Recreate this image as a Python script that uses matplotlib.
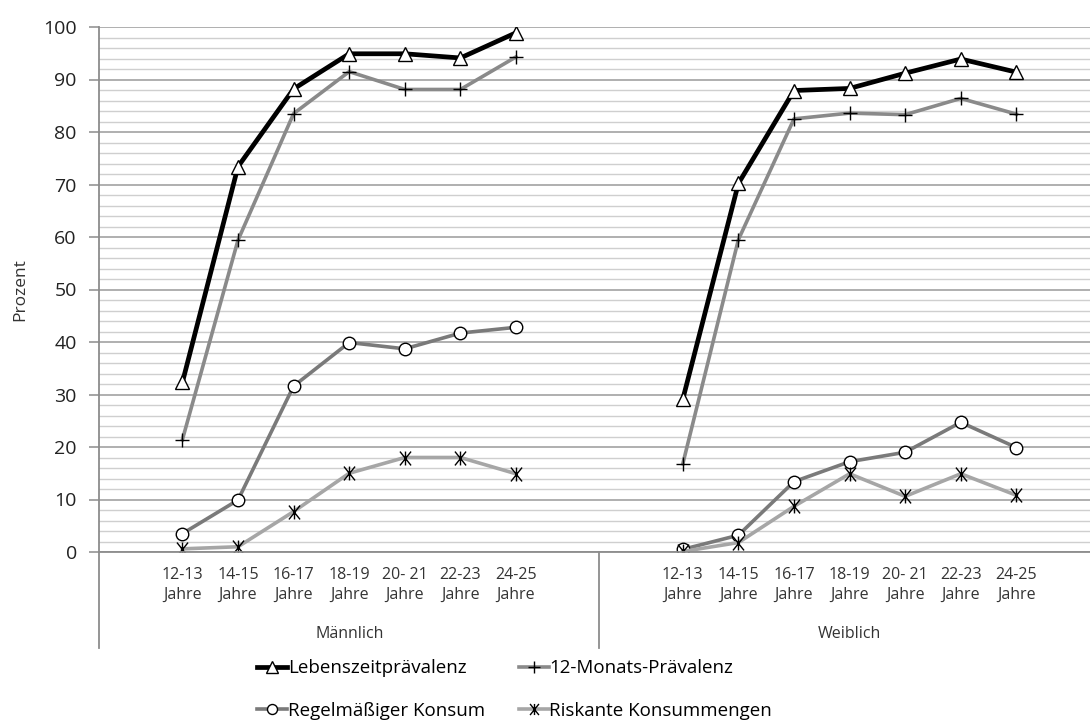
import matplotlib
matplotlib.use("Agg")
import matplotlib.pyplot as plt
import numpy as np
from matplotlib.path import Path
from matplotlib.ticker import MultipleLocator

plt.rcParams['font.family'] = ['Open Sans', 'DejaVu Sans']

# Altersgruppen je Geschlecht
alter = ["12-13\nJahre", "14-15\nJahre", "16-17\nJahre", "18-19\nJahre",
         "20- 21\nJahre", "22-23\nJahre", "24-25\nJahre"]
gruppen = ["Männlich", "Weiblich"]

# Werte in Prozent
leben_m = [32.3, 73.4, 88.2, 94.9, 94.9, 94.1, 98.9]
leben_w = [29.1, 70.2, 87.9, 88.3, 91.2, 93.9, 91.4]
monat_m = [21.4, 59.4, 83.5, 91.5, 88.1, 88.1, 94.3]
monat_w = [16.8, 59.5, 82.5, 83.6, 83.3, 86.4, 83.4]
regel_m = [3.5, 9.9, 31.6, 39.9, 38.7, 41.7, 42.8]
regel_w = [0.5, 3.2, 13.4, 17.2, 19.0, 24.7, 19.9]
risk_m = [0.6, 1.0, 7.7, 15.0, 18.0, 18.0, 14.9]
risk_w = [0.1, 1.8, 8.7, 14.9, 10.6, 14.9, 10.8]

# Stern-Marker (X mit senkrechtem Strich)
stern = Path([(-0.8, -1), (0.8, 1), (-0.8, 1), (0.8, -1), (0, -1), (0, 1)],
             [Path.MOVETO, Path.LINETO, Path.MOVETO, Path.LINETO,
              Path.MOVETO, Path.LINETO])

serien = [
    ("Lebenszeitprävalenz", leben_m, leben_w,
     dict(color="black", lw=3.4, marker="^", ms=10, mfc="white", mec="black", mew=1.0)),
    ("12-Monats-Prävalenz", monat_m, monat_w,
     dict(color="#8a8a8a", lw=2.6, marker="+", ms=10, mec="black", mew=1.0)),
    ("Regelmäßiger Konsum", regel_m, regel_w,
     dict(color="#7a7a7a", lw=2.6, marker="o", ms=9, mfc="white", mec="black", mew=1.0)),
    ("Riskante Konsummengen", risk_m, risk_w,
     dict(color="#a6a6a6", lw=2.6, marker=stern, ms=10, mec="black", mew=1.0)),
]

fig = plt.figure(figsize=(10.9, 7.22), dpi=100)
W, H = 1090, 722
ax = fig.add_axes([99 / W, 1 - 552 / H, (W - 99) / W, 525 / H])

n = len(alter)
slot = 9
x_m = np.arange(n) + 1.5
x_w = np.arange(n) + 1.5 + slot

handles = []
for name, werte_m, werte_w, st in serien:
    h, = ax.plot(x_m, werte_m, label=name, **st)
    ax.plot(x_w, werte_w, **st)
    handles.append(h)

ax.set_ylim(0, 100)
ax.set_xlim(0, (W - 99) / 55.6)
ax.yaxis.set_major_locator(MultipleLocator(10))
ax.yaxis.set_minor_locator(MultipleLocator(2))
ax.grid(which="minor", axis="y", color="#cfcfcf", lw=1.0)
ax.grid(which="major", axis="y", color="#9a9a9a", lw=1.1)
ax.set_axisbelow(True)

for s in ["top", "right"]:
    ax.spines[s].set_visible(False)
ax.spines["left"].set_color("#8c8c8c")
ax.spines["left"].set_linewidth(1.3)
ax.spines["bottom"].set_color("#8c8c8c")
ax.spines["bottom"].set_linewidth(1.3)

ax.tick_params(axis="y", which="major", length=7, color="#8c8c8c", width=1.1,
               labelsize=14, pad=9, labelcolor="#222222")
ax.tick_params(axis="y", which="minor", length=0)
ax.set_xticks(np.concatenate([x_m, x_w]))
ax.set_xticklabels(alter * 2, fontsize=11.5, color="#333333", linespacing=1.3)
ax.tick_params(axis="x", length=0, pad=11)

ax.set_ylabel("Prozent", fontsize=12.5, color="#333333")
ax.yaxis.set_label_coords(-0.071, 0.5)

# Gruppentrenner unterhalb der Achse
trans = ax.get_xaxis_transform()
for xs in [0, slot]:
    ax.plot([xs, xs], [0, -0.183], transform=trans, color="#8c8c8c",
            lw=1.3, clip_on=False)
for i, g in enumerate(gruppen):
    ax.text(slot * i + slot / 2, -0.156, g, transform=trans, ha="center",
            va="center", fontsize=11.5, color="#333333")

# Legende zeilenweise: Lebenszeit, 12-Monat / Regelmäßig, Riskant
order = [0, 2, 1, 3]
fig.legend([handles[i] for i in order], [serien[i][0] for i in order],
           loc="lower center", bbox_to_anchor=(0.472, -0.02), ncol=2,
           frameon=False, fontsize=13.5, handlelength=1.6, handletextpad=0.05,
           columnspacing=1.8, labelspacing=1.3, markerscale=0.8)

fig.savefig("out.png", dpi=100)
